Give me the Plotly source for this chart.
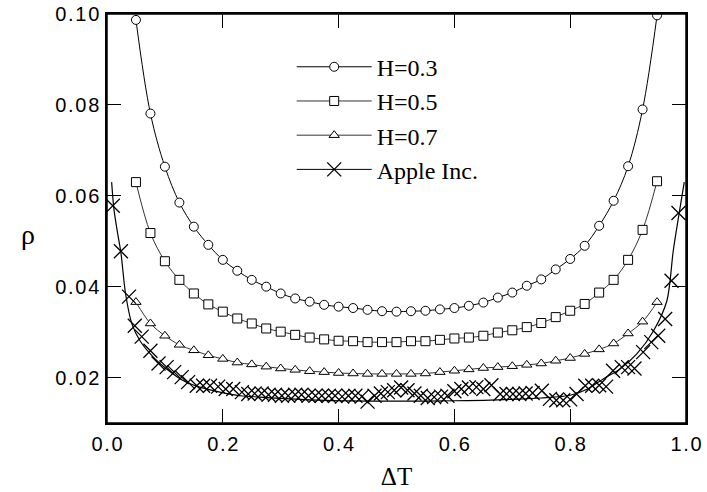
import plotly.graph_objects as go

# ---- data ----
dt_model = [0.050, 0.075, 0.100, 0.125, 0.150, 0.175, 0.200, 0.225, 0.250, 0.275,
            0.300, 0.325, 0.350, 0.375, 0.400, 0.425, 0.450, 0.475, 0.500, 0.525,
            0.550, 0.575, 0.600, 0.625, 0.650, 0.675, 0.700, 0.725, 0.750, 0.775,
            0.800, 0.825, 0.850, 0.875, 0.900, 0.925, 0.950]

rho_h03 = [0.0987, 0.0781, 0.0664, 0.0585, 0.0532, 0.0492, 0.0459, 0.0435, 0.0415, 0.0400,
           0.0385, 0.0374, 0.0367, 0.0360, 0.0356, 0.0353, 0.0349, 0.0346, 0.0345, 0.0346,
           0.0347, 0.0350, 0.0353, 0.0358, 0.0365, 0.0376, 0.0387, 0.0402, 0.0416, 0.0438,
           0.0461, 0.0490, 0.0534, 0.0589, 0.0665, 0.0790, 0.0997]

rho_h05 = [0.0630, 0.0518, 0.0456, 0.0415, 0.0385, 0.0361, 0.0345, 0.0330, 0.0319, 0.0308,
           0.0301, 0.0294, 0.0288, 0.0284, 0.0281, 0.0280, 0.0278, 0.0278, 0.0278, 0.0280,
           0.0280, 0.0283, 0.0286, 0.0288, 0.0292, 0.0299, 0.0304, 0.0311, 0.0320, 0.0333,
           0.0347, 0.0362, 0.0387, 0.0415, 0.0459, 0.0525, 0.0632]

rho_h07 = [0.0366, 0.0319, 0.0292, 0.0272, 0.0260, 0.0249, 0.0241, 0.0233, 0.0229, 0.0224,
           0.0220, 0.0217, 0.0214, 0.0212, 0.0210, 0.0209, 0.0208, 0.0208, 0.0208, 0.0208,
           0.0209, 0.0212, 0.0215, 0.0218, 0.0221, 0.0223, 0.0225, 0.0228, 0.0231, 0.0237,
           0.0243, 0.0252, 0.0262, 0.0275, 0.0297, 0.0323, 0.0366]

dt_apple = [0.010, 0.024, 0.038, 0.048, 0.060, 0.075, 0.089, 0.103, 0.116, 0.129,
            0.140, 0.155, 0.166, 0.178, 0.192, 0.205, 0.218, 0.233, 0.244, 0.255,
            0.267, 0.279, 0.290, 0.302, 0.313, 0.325, 0.336, 0.348, 0.360, 0.371,
            0.383, 0.394, 0.406, 0.417, 0.429, 0.440, 0.450, 0.462, 0.473, 0.485,
            0.496, 0.508, 0.519, 0.531, 0.542, 0.554, 0.565, 0.577, 0.588, 0.600,
            0.612, 0.625, 0.638, 0.650, 0.664, 0.679, 0.690, 0.701, 0.712, 0.723,
            0.735, 0.751, 0.765, 0.776, 0.788, 0.800, 0.811, 0.826, 0.838, 0.850,
            0.862, 0.874, 0.889, 0.900, 0.911, 0.926, 0.940, 0.952, 0.964, 0.975,
            0.987]

rho_apple = [0.0578, 0.0478, 0.0378, 0.0314, 0.0290, 0.0259, 0.0231, 0.0223, 0.0212, 0.0201,
             0.0190, 0.0182, 0.0182, 0.0182, 0.0180, 0.0175, 0.0175, 0.0168, 0.0164, 0.0165,
             0.0165, 0.0162, 0.0162, 0.0160, 0.0160, 0.0162, 0.0162, 0.0160, 0.0160, 0.0160,
             0.0160, 0.0160, 0.0158, 0.0160, 0.0160, 0.0158, 0.0147, 0.0160, 0.0165, 0.0168,
             0.0172, 0.0178, 0.0172, 0.0165, 0.0160, 0.0155, 0.0157, 0.0158, 0.0160, 0.0170,
             0.0175, 0.0178, 0.0179, 0.0175, 0.0183, 0.0164, 0.0164, 0.0164, 0.0164, 0.0165,
             0.0166, 0.0171, 0.0153, 0.0150, 0.0150, 0.0152, 0.0164, 0.0182, 0.0182, 0.0183,
             0.0180, 0.0215, 0.0223, 0.0223, 0.0220, 0.0256, 0.0278, 0.0292, 0.0329, 0.0413,
             0.0562]

dt_fit = [0.008, 0.012, 0.018, 0.024, 0.032, 0.043, 0.057, 0.080, 0.103, 0.132,
          0.160, 0.195, 0.230, 0.264, 0.300, 0.350, 0.400, 0.500, 0.600, 0.650,
          0.700, 0.750, 0.800, 0.830, 0.857, 0.886, 0.915, 0.944, 0.967, 0.978,
          0.988, 0.997]
rho_fit = [0.0630, 0.0570, 0.0520, 0.0475, 0.0385, 0.0318, 0.0281, 0.0245, 0.0219, 0.0193,
           0.0179, 0.0168, 0.0160, 0.0157, 0.0154, 0.0151, 0.0149, 0.0148, 0.0149, 0.0150,
           0.0152, 0.0155, 0.0161, 0.0175, 0.0197, 0.0219, 0.0252, 0.0303, 0.0369, 0.0479,
           0.0560, 0.0630]

x_ticks = [0.0, 0.2, 0.4, 0.6, 0.8, 1.0]
x_labels = ["0.0", "0.2", "0.4", "0.6", "0.8", "1.0"]
y_ticks = [0.02, 0.04, 0.06, 0.08, 0.10]
y_labels = ["0.02", "0.04", "0.06", "0.08", "0.10"]

series_names = ["H=0.3", "H=0.5", "H=0.7", "Apple Inc."]

# letter-spaced tick labels (the original uses a widely tracked sans font)
def spaced(s):
    return "\u200a".join(s)

# ---- figure ----
fig = go.Figure()

def marker(sym, size):
    return dict(symbol=sym, size=size, color="white", line=dict(color="black", width=1))

fig.add_trace(go.Scatter(x=dt_model, y=rho_h03, name=series_names[0], mode="lines+markers",
                         line=dict(color="black", width=1, shape="spline"),
                         marker=marker("circle", 9)))
fig.add_trace(go.Scatter(x=dt_model, y=rho_h05, name=series_names[1], mode="lines+markers",
                         line=dict(color="#333", width=1, shape="spline"),
                         marker=marker("square", 9)))
fig.add_trace(go.Scatter(x=dt_model, y=rho_h07, name=series_names[2], mode="lines+markers",
                         line=dict(color="#333", width=1, shape="spline"),
                         marker=marker("triangle-up", 9)))
fig.add_trace(go.Scatter(x=dt_fit, y=rho_fit, mode="lines", showlegend=False,
                         line=dict(color="black", width=1.2, shape="spline", smoothing=0.8)))
fig.add_trace(go.Scatter(x=dt_apple, y=rho_apple, mode="markers", showlegend=False,
                         marker=dict(symbol="x-thin", size=14,
                                     line=dict(color="black", width=1.3))))
# legend entry for the Apple series (line + cross)
fig.add_trace(go.Scatter(x=[None], y=[None], name=series_names[3], mode="lines+markers",
                         line=dict(color="black", width=1),
                         marker=dict(symbol="x-thin", size=14,
                                     line=dict(color="black", width=1.3))))

axis_common = dict(showline=True, linecolor="black", linewidth=1.5, mirror="allticks",
                   ticks="inside", ticklen=14, tickwidth=1.2, tickcolor="black",
                   showgrid=False, zeroline=False, automargin=False,
                   ticklabeloverflow="allow",
                   tickfont=dict(family="Liberation Sans, Arial, sans-serif", size=20, color="black"))

fig.update_layout(
    width=707, height=492,
    margin=dict(l=107, r=21, t=14, b=69, autoexpand=False),
    paper_bgcolor="white", plot_bgcolor="white",
    xaxis=dict(range=[0, 1], tickvals=x_ticks, ticktext=[spaced(t) for t in x_labels],
               ticklabelstandoff=2,
               title=dict(text="ΔT", font=dict(family="Liberation Serif, Times New Roman, serif",
                                                 size=25, color="black"), standoff=14),
               **axis_common),
    yaxis=dict(range=[0.01, 0.10], tickvals=y_ticks, ticktext=[spaced(t) for t in y_labels],
               ticklabelstandoff=2, **axis_common),
    legend=dict(x=0.319, y=0.925, xanchor="left", yanchor="top",
                bgcolor="rgba(0,0,0,0)", borderwidth=0, itemwidth=75,
                font=dict(family="Liberation Serif, Times New Roman, serif", size=24, color="black")),
    annotations=[dict(text="ρ", xref="paper", yref="paper", x=-0.137, y=0.462,
                      xanchor="center", yanchor="middle",
                      showarrow=False, textangle=0,
                      font=dict(family="Liberation Serif, Times New Roman, serif", size=28,
                                color="black"))],
    shapes=[dict(type="rect", xref="paper", yref="paper", x0=0, y0=0, x1=1, y1=1,
                 line=dict(color="black", width=1.5), fillcolor="rgba(0,0,0,0)", layer="above")],
    showlegend=True,
)

# remove the default page margin so the 707x492 figure fills the window exactly
fig.write_html("out.html", config={"displayModeBar": False},
               post_script="document.body.style.margin='0';document.body.style.overflow='hidden';")
